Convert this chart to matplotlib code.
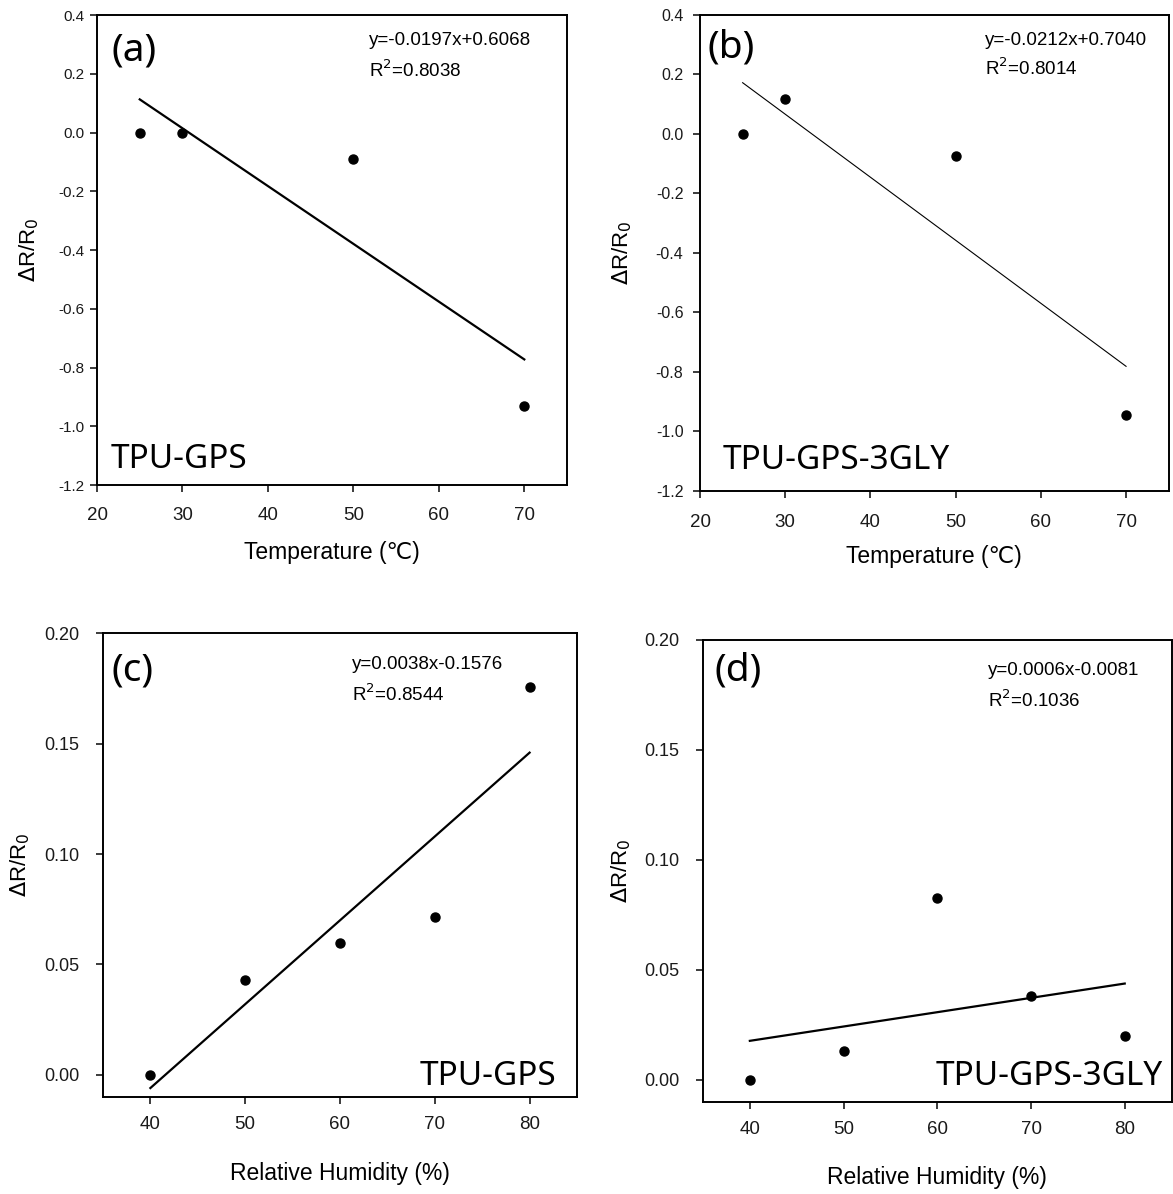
import numpy as np
import matplotlib
matplotlib.use("Agg")
import matplotlib.pyplot as plt

# data
temp = [25, 30, 50, 70]
dr_temp_gps = [0.0, -0.003, -0.09, -0.931]
dr_temp_gly = [0.0, 0.1175, -0.0725, -0.945]

rh = [40, 50, 60, 70, 80]
dr_rh_gps = [0.0, 0.0431, 0.0598, 0.0714, 0.1756]
dr_rh_gly = [0.0, 0.0132, 0.0825, 0.0383, 0.020]

eq_texts = ["y=-0.0197x+0.6068", "y=-0.0212x+0.7040", "y=0.0038x-0.1576", "y=0.0006x-0.0081"]
r2_texts = ["0.8038", "0.8014", "0.8544", "0.1036"]
panel_tags = ["(a)", "(b)", "(c)", "(d)"]
sample_names = ["TPU-GPS", "TPU-GPS-3GLY", "TPU-GPS", "TPU-GPS-3GLY"]

label_font = ["Liberation Sans", "DejaVu Sans", "Noto Sans CJK SC"]
big_font = ["Noto Sans", "DejaVu Sans"]

fig = plt.figure(figsize=(11.73, 11.94), dpi=100)

panels = [
    dict(x=temp, y=dr_temp_gps, rect=[0.0827, 0.5938, 0.4007, 0.3936], xlim=(20, 75), ylim=(-1.2, 0.4),
         yt=np.arange(-1.2, 0.41, 0.2), yfmt="%.1f", xt=[20, 30, 40, 50, 60, 70], lw=1.6,
         tag=(0.03, 0.925), eq=(0.579, 0.945, 0.882), name=(0.028, 0.055, "left"),
         ylab=-0.119, xlab=-0.119, ypad=4, xpad=11, ysize=11),
    dict(x=temp, y=dr_temp_gly, rect=[0.5968, 0.5888, 0.3995, 0.3987], xlim=(20, 75), ylim=(-1.2, 0.4),
         yt=np.arange(-1.2, 0.41, 0.2), yfmt="%.1f", xt=[20, 30, 40, 50, 60, 70], lw=0.8,
         tag=(0.015, 0.932), eq=(0.608, 0.947, 0.887), name=(0.049, 0.065, "left"),
         ylab=-0.14, xlab=-0.113, ypad=7, xpad=11.5, ysize=11.5),
    dict(x=rh, y=dr_rh_gps, rect=[0.0878, 0.0812, 0.4041, 0.3886], xlim=(35, 85), ylim=(-0.01, 0.20),
         yt=[0.0, 0.05, 0.10, 0.15, 0.20], yfmt="%.2f", xt=[40, 50, 60, 70, 80], lw=1.6,
         tag=(0.017, 0.92), eq=(0.525, 0.933, 0.868), name=(0.956, 0.045, "right"),
         ylab=-0.15, xlab=-0.14, ypad=12, xpad=9, ysize=13),
    dict(x=rh, y=dr_rh_gly, rect=[0.5993, 0.0771, 0.3995, 0.3869], xlim=(35, 85), ylim=(-0.01, 0.20),
         yt=[0.0, 0.05, 0.10, 0.15, 0.20], yfmt="%.2f", xt=[40, 50, 60, 70, 80], lw=1.6,
         tag=(0.025, 0.935), eq=(0.608, 0.935, 0.87), name=(0.981, 0.054, "right"),
         ylab=-0.149, xlab=-0.139, ypad=12, xpad=9, ysize=13),
]

for i, p in enumerate(panels):
    ax = fig.add_axes(p["rect"])
    xs = np.array(p["x"], dtype=float)
    ys = np.array(p["y"], dtype=float)

    # linear regression line
    k, b = np.polyfit(xs, ys, 1)
    xx = np.array([xs.min(), xs.max()])
    ax.plot(xx, k * xx + b, color="black", lw=p["lw"])
    ax.plot(xs, ys, "o", color="black", ms=6.5)

    ax.set_xlim(*p["xlim"])
    ax.set_ylim(*p["ylim"])
    ax.set_xticks(p["xt"])
    ax.set_yticks(p["yt"])
    ax.set_yticklabels([p["yfmt"] % (round(v, 2) + 0.0) for v in p["yt"]])

    for s in ax.spines.values():
        s.set_linewidth(1.4)
    ax.tick_params(direction="out", length=5, width=1.2, colors="#1a1a1a")
    ax.tick_params(axis="y", pad=p["ypad"], labelsize=p["ysize"])
    ax.tick_params(axis="x", pad=p["xpad"], labelsize=13.5)
    for lab in ax.get_xticklabels() + ax.get_yticklabels():
        lab.set_family(label_font)

    ax.set_ylabel(r"$\Delta$R/R$_0$", fontsize=16, family=label_font)
    ax.yaxis.set_label_coords(p["ylab"], 0.5)
    xl = "Temperature (℃)" if i < 2 else "Relative Humidity (%)"
    ax.set_xlabel(xl, fontsize=16.5, family=label_font)
    ax.xaxis.set_label_coords(0.5, p["xlab"])

    ax.text(p["tag"][0], p["tag"][1], panel_tags[i], transform=ax.transAxes,
            fontsize=28, family=big_font, ha="left", va="center")
    ax.text(p["eq"][0], p["eq"][1], eq_texts[i], transform=ax.transAxes,
            fontsize=13.5, family=label_font, ha="left", va="center")
    ax.text(p["eq"][0], p["eq"][2], "R$^2$=" + r2_texts[i], transform=ax.transAxes,
            fontsize=13.5, family=label_font, ha="left", va="center")
    ax.text(p["name"][0], p["name"][1], sample_names[i], transform=ax.transAxes,
            fontsize=24, family=big_font, ha=p["name"][2], va="center")

fig.savefig("out.png", dpi=100)
